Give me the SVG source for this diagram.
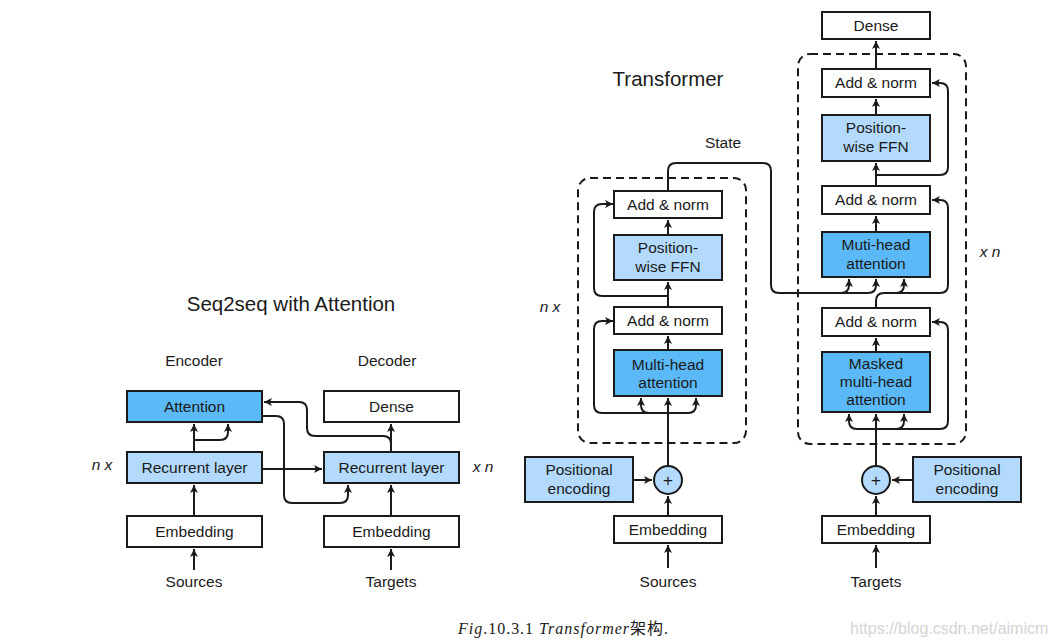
<svg xmlns="http://www.w3.org/2000/svg" width="1053" height="641" viewBox="0 0 1053 641">
<style>
.t{font-family:"Liberation Sans",Arial,sans-serif;font-size:15.5px;fill:#1a1a1a;text-anchor:middle}
.ti{font-family:"Liberation Sans",Arial,sans-serif;font-size:20.5px;fill:#1a1a1a;text-anchor:middle}
.it{font-family:"Liberation Sans",Arial,sans-serif;font-size:15.5px;font-style:italic;fill:#1a1a1a;text-anchor:middle}
.w{fill:#ffffff;stroke:#1a1a1a;stroke-width:2}
.lb{fill:#b3dafc;stroke:#1a1a1a;stroke-width:2}
.db{fill:#5bb9f7;stroke:#1a1a1a;stroke-width:2}
.dash{fill:none;stroke:#1a1a1a;stroke-width:2;stroke-dasharray:8 5}
.c path{fill:none;stroke:#1a1a1a;stroke-width:2}
.a{marker-end:url(#ah)}
</style>
<defs>
<marker id="ah" markerWidth="10" markerHeight="10" refX="8" refY="4" orient="auto" markerUnits="userSpaceOnUse"><path d="M0,0 L8,4 L0,8 L2,4 z" fill="#1a1a1a"/></marker>
</defs>
<rect width="1053" height="641" fill="#ffffff"/>

<!-- Titles and labels -->
<text class="ti" x="291" y="311">Seq2seq with Attention</text>
<text class="ti" x="668" y="86">Transformer</text>
<text class="t" x="194" y="366">Encoder</text>
<text class="t" x="387" y="366">Decoder</text>
<text class="it" x="102" y="470">n x</text>
<text class="it" x="483" y="472">x n</text>
<text class="it" x="550" y="312">n x</text>
<text class="it" x="990" y="257">x n</text>
<text class="t" x="723" y="148">State</text>
<text class="t" x="194" y="587">Sources</text>
<text class="t" x="391" y="587">Targets</text>
<text class="t" x="668" y="587">Sources</text>
<text class="t" x="876" y="587">Targets</text>

<!-- Dashed blocks -->
<rect class="dash" x="578" y="178" width="168" height="265" rx="12"/>
<rect class="dash" x="798" y="54" width="168" height="390" rx="12"/>

<!-- Connectors -->
<g id="connectors" class="c">
<path class="a" d="M194,570 L194,549"/>
<path class="a" d="M194,516 L194,485"/>
<path class="a" d="M194,452 L194,424"/>
<path class="a" d="M194,440 L220,440 Q228,440 228,432 L228,424"/>
<path class="a" d="M262,469 L322,469"/>
<path class="a" d="M262,416 L276,416 Q284,416 284,424 L284,495 Q284,503 292,503 L340,503 Q348,503 348,495 L348,485"/>
<path class="a" d="M391,570 L391,549"/>
<path class="a" d="M391,516 L391,485"/>
<path class="a" d="M391,452 L391,424"/>
<path class="a" d="M391,452 L391,444 Q391,436 383,436 L315,436 Q307,436 307,428 L307,410 Q307,402 299,402 L264,402"/>

<path class="a" d="M668,568 L668,545"/>
<path class="a" d="M668,516 L668,496"/>
<path class="a" d="M633,480 L652,480"/>
<path class="a" d="M668,466 L668,398"/>
<path class="a" d="M668,413 L649,413 Q641,413 641,405 L641,398"/>
<path class="a" d="M668,413 L688,413 Q696,413 696,405 L696,398"/>
<path class="a" d="M668,413 L602,413 Q594,413 594,405 L594,329 Q594,321 602,321 L613,321"/>
<path class="a" d="M668,350 L668,336"/>
<path class="a" d="M668,307 L668,282"/>
<path class="a" d="M668,296 L602,296 Q594,296 594,288 L594,212 Q594,204 602,204 L613,204"/>
<path class="a" d="M668,235 L668,220"/>
<path class="a" d="M668,191 L668,171 Q668,163 676,163 L763,163 Q771,163 771,171 L771,285 Q771,293 779,293 L868,293 Q876,293 876,285 L876,279"/>
<path class="a" d="M841,293 Q849,293 849,285 L849,279"/>

<path class="a" d="M876,568 L876,545"/>
<path class="a" d="M876,516 L876,496"/>
<path class="a" d="M913,480 L892,480"/>
<path class="a" d="M876,466 L876,414"/>
<path class="a" d="M876,429 L857,429 Q849,429 849,421 L849,414"/>
<path class="a" d="M876,429 L896,429 Q904,429 904,421 L904,414"/>
<path class="a" d="M876,429 L940,429 Q948,429 948,421 L948,330 Q948,322 940,322 L932,322"/>
<path class="a" d="M876,352 L876,338"/>
<path class="a" d="M876,308 L876,301 Q876,293 884,293 L940,293 Q948,293 948,285 L948,208 Q948,200 940,200 L932,200"/>
<path class="a" d="M896,293 Q904,293 904,285 L904,279"/>
<path class="a" d="M876,232 L876,216"/>
<path class="a" d="M876,186 L876,163"/>
<path class="a" d="M876,175 L940,175 Q948,175 948,167 L948,91 Q948,83 940,83 L932,83"/>
<path class="a" d="M876,115 L876,99"/>
<path class="a" d="M876,69 L876,41"/>
</g>

<!-- Seq2seq nodes -->
<g id="s2s-attention"><rect class="db" x="127" y="391" width="135" height="31"/><text class="t" x="194.5" y="412">Attention</text></g>
<g id="s2s-dense"><rect class="w" x="324" y="391" width="135" height="31"/><text class="t" x="391.5" y="412">Dense</text></g>
<g id="s2s-enc-rnn"><rect class="lb" x="127" y="452" width="135" height="31"/><text class="t" x="194.5" y="473">Recurrent layer</text></g>
<g id="s2s-dec-rnn"><rect class="lb" x="324" y="452" width="135" height="31"/><text class="t" x="391.5" y="473">Recurrent layer</text></g>
<g id="s2s-enc-emb"><rect class="w" x="127" y="516" width="135" height="31"/><text class="t" x="194.5" y="537">Embedding</text></g>
<g id="s2s-dec-emb"><rect class="w" x="324" y="516" width="135" height="31"/><text class="t" x="391.5" y="537">Embedding</text></g>

<!-- Transformer encoder nodes -->
<g id="enc-addnorm2"><rect class="w" x="614" y="191" width="108" height="27"/><text class="t" x="668" y="209.5">Add &amp; norm</text></g>
<g id="enc-ffn"><rect class="lb" x="614" y="235" width="108" height="45"/><text class="t" x="668" y="253">Position-</text><text class="t" x="668" y="272">wise FFN</text></g>
<g id="enc-addnorm1"><rect class="w" x="614" y="307" width="108" height="27"/><text class="t" x="668" y="326">Add &amp; norm</text></g>
<g id="enc-mha"><rect class="db" x="614" y="350" width="108" height="46"/><text class="t" x="668" y="370">Multi-head</text><text class="t" x="668" y="388">attention</text></g>
<g id="enc-plus"><circle cx="668" cy="480" r="14" fill="#b3dafc" stroke="#1a1a1a" stroke-width="2"/><text class="t" x="668" y="486" style="font-size:17px">+</text></g>
<g id="enc-posenc"><rect class="lb" x="525" y="457" width="108" height="45"/><text class="t" x="579" y="475">Positional</text><text class="t" x="579" y="494">encoding</text></g>
<g id="enc-emb"><rect class="w" x="614" y="516" width="108" height="27"/><text class="t" x="668" y="535">Embedding</text></g>

<!-- Transformer decoder nodes -->
<g id="dec-dense"><rect class="w" x="822" y="12" width="108" height="27"/><text class="t" x="876" y="31">Dense</text></g>
<g id="dec-addnorm3"><rect class="w" x="822" y="69" width="108" height="28"/><text class="t" x="876" y="88">Add &amp; norm</text></g>
<g id="dec-ffn"><rect class="lb" x="822" y="115" width="108" height="46"/><text class="t" x="876" y="133">Position-</text><text class="t" x="876" y="152">wise FFN</text></g>
<g id="dec-addnorm2"><rect class="w" x="822" y="186" width="108" height="28"/><text class="t" x="876" y="205">Add &amp; norm</text></g>
<g id="dec-mha"><rect class="db" x="822" y="232" width="108" height="45"/><text class="t" x="876" y="250">Muti-head</text><text class="t" x="876" y="269">attention</text></g>
<g id="dec-addnorm1"><rect class="w" x="822" y="308" width="108" height="28"/><text class="t" x="876" y="327">Add &amp; norm</text></g>
<g id="dec-masked"><rect class="db" x="822" y="352" width="108" height="60"/><text class="t" x="876" y="369">Masked</text><text class="t" x="876" y="387">multi-head</text><text class="t" x="876" y="405">attention</text></g>
<g id="dec-plus"><circle cx="876" cy="480" r="14" fill="#b3dafc" stroke="#1a1a1a" stroke-width="2"/><text class="t" x="876" y="486" style="font-size:17px">+</text></g>
<g id="dec-posenc"><rect class="lb" x="913" y="457" width="108" height="45"/><text class="t" x="967" y="475">Positional</text><text class="t" x="967" y="494">encoding</text></g>
<g id="dec-emb"><rect class="w" x="822" y="516" width="108" height="27"/><text class="t" x="876" y="535">Embedding</text></g>

<!-- Caption and watermark -->
<text x="458" y="634" textLength="210" lengthAdjust="spacing" style="font-family:'Liberation Serif','Noto Sans CJK SC',serif;font-size:16px;fill:#1a1a1a"><tspan font-style="italic">Fig</tspan>.10.3.1 <tspan font-style="italic">Transformer</tspan>架构.</text>
<text x="850" y="634" style="font-family:'Liberation Sans',Arial,sans-serif;font-size:16px;fill:#d4d4d4">https://blog.csdn.net/aimicm</text>
</svg>
